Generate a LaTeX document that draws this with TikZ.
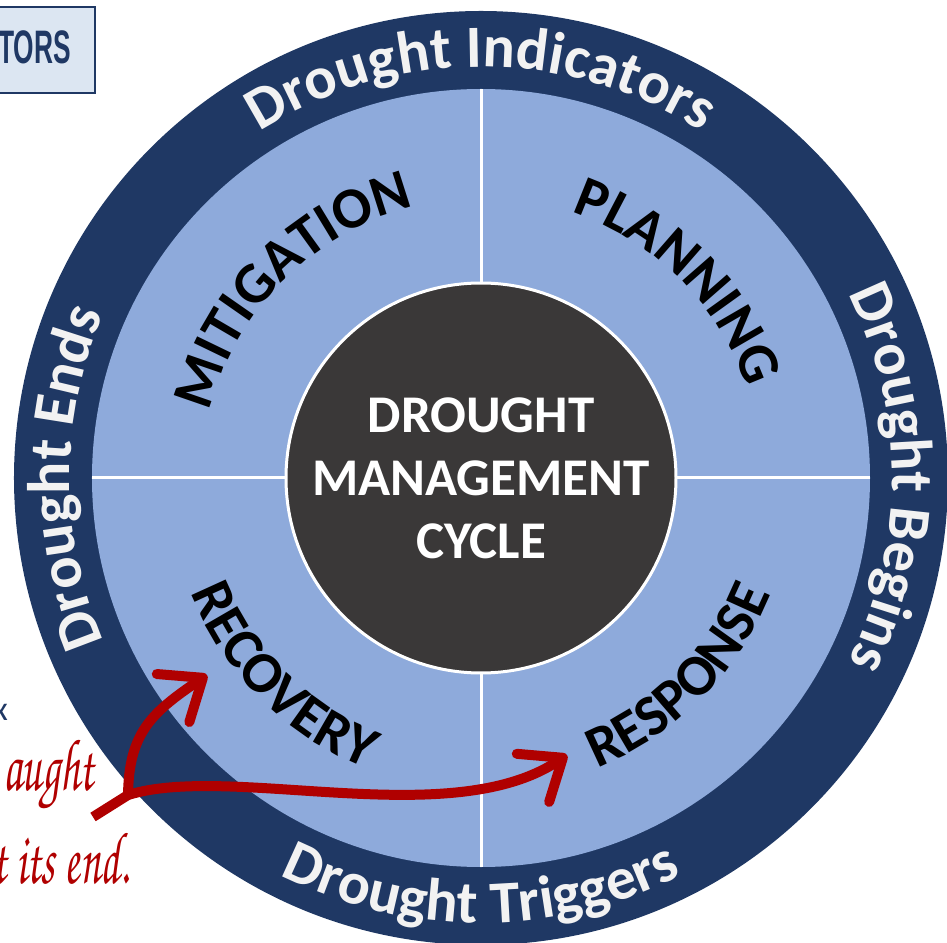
\documentclass[tikz,border=0pt]{standalone}
\usepackage[T1]{fontenc}
\usepackage{fontspec}
\setmainfont{Carlito}
\usetikzlibrary{decorations.text,arrows.meta}

\definecolor{ringnavy}{HTML}{1F3864}
\definecolor{sectorblue}{HTML}{8EAADB}
\definecolor{hubgray}{HTML}{3A3838}
\definecolor{ringtext}{HTML}{F2F2F2}
\definecolor{notered}{HTML}{B00000}
\definecolor{tagfill}{HTML}{DCE6F2}

\newcommand\ringfont{\fontsize{60}{60}\selectfont\bfseries\color{ringtext}}
\newcommand\sectorfont{\fontsize{58}{58}\selectfont\bfseries\color{black}}
\newcommand\handfont{\fontencoding{T1}\fontfamily{pzc}\fontseries{mb}\fontshape{it}\selectfont}

\begin{document}
\begin{tikzpicture}[x=1pt,y=1pt,
  ringcw/.style={decorate,decoration={text along path,text align=center,text={|\ringfont|#1}}},
  ringccw/.style={decorate,decoration={text along path,text align=center,text={|\ringfont|#1}}},
  sectorlabel/.style={decorate,decoration={text along path,text align=center,text={|\sectorfont|#1}}},
  divider/.style={white,line width=3pt},
  hub/.style={circle,fill=hubgray,draw=white,line width=3pt,minimum size=390pt,inner sep=0pt,
    text=white,align=center,font=\fontsize{53}{63}\selectfont\bfseries},
  notearrow/.style={notered,line width=10pt,-{Straight Barb[length=36pt,width=58pt,round]}},
  notetext/.style={notered,inner sep=0pt,font=\fontsize{74}{74}\handfont},
  tagbox/.style={fill=tagfill,draw=ringnavy,line width=2pt},
]
\useasboundingbox (-481,-464) rectangle (466,478);

% rings
\fill[ringnavy] (0,0) circle[radius=467];
\fill[sectorblue] (0,0) circle[radius=389];

% quadrant dividers
\coordinate (dN) at (0,389);
\coordinate (dS) at (0,-389);
\coordinate (dW) at (-389,0);
\coordinate (dE) at (389,0);
\draw[divider] (dN) -- (dS);
\draw[divider] (dW) -- (dE);

% hub
\node[hub] (hub) at (0,0) {DROUGHT\\MANAGEMENT\\CYCLE};

% texts on the outer ring
\path[ringcw=Drought Indicators] (150:411) arc[start angle=150,end angle=30,radius=411];
\path[ringcw=Drought Begins] (60:411) arc[start angle=60,end angle=-60,radius=411];
\path[ringcw=Drought Ends] (240:411) arc[start angle=240,end angle=120,radius=411];
\path[ringccw=Drought Triggers] (210:445) arc[start angle=210,end angle=330,radius=445];

% phase labels
\path[sectorlabel=MITIGATION] (195:279) arc[start angle=195,end angle=75,radius=279];
\path[sectorlabel=PLANNING] (105:281) arc[start angle=105,end angle=-15,radius=281];
\path[sectorlabel=RECOVERY] (165:312) arc[start angle=165,end angle=285,radius=312];
\path[sectorlabel=RESPONSE] (255:312) arc[start angle=255,end angle=375,radius=312];

% tag in the corner
\path[tagbox] (-500,385) rectangle (-386,471);
\node[anchor=east,inner sep=0pt,text=ringnavy] (tag) at (-410,431)
  {\scalebox{0.56}[1]{\fontspec{Liberation Sans}\bfseries\fontsize{47}{47}\selectfont TORS}};

% note on the left
\node[anchor=base east,inner sep=0pt,text=ringnavy,font=\fontsize{34}{34}\selectfont] (notex) at (-473,-242) {x};
\node[notetext,anchor=base east] (note1) at (-387,-312) {\scalebox{0.6}[1]{aught}};
\node[notetext,anchor=base east] (note2) at (-351,-405) {\scalebox{0.6}[1]{t its end.}};

% arrows
\coordinate (tail) at (-388,-339);
\coordinate (fork) at (-353,-317);
\coordinate (tipA) at (-274,-197);
\coordinate (tipB) at (86,-277);
\draw[notered,line width=10pt] (tail) -- (fork);
\draw[notearrow] (fork) .. controls (-352,-255) and (-330,-235) .. (tipA);
\draw[notearrow] (fork) .. controls (-250,-285) and (-30,-355) .. (tipB);
\end{tikzpicture}
\end{document}
